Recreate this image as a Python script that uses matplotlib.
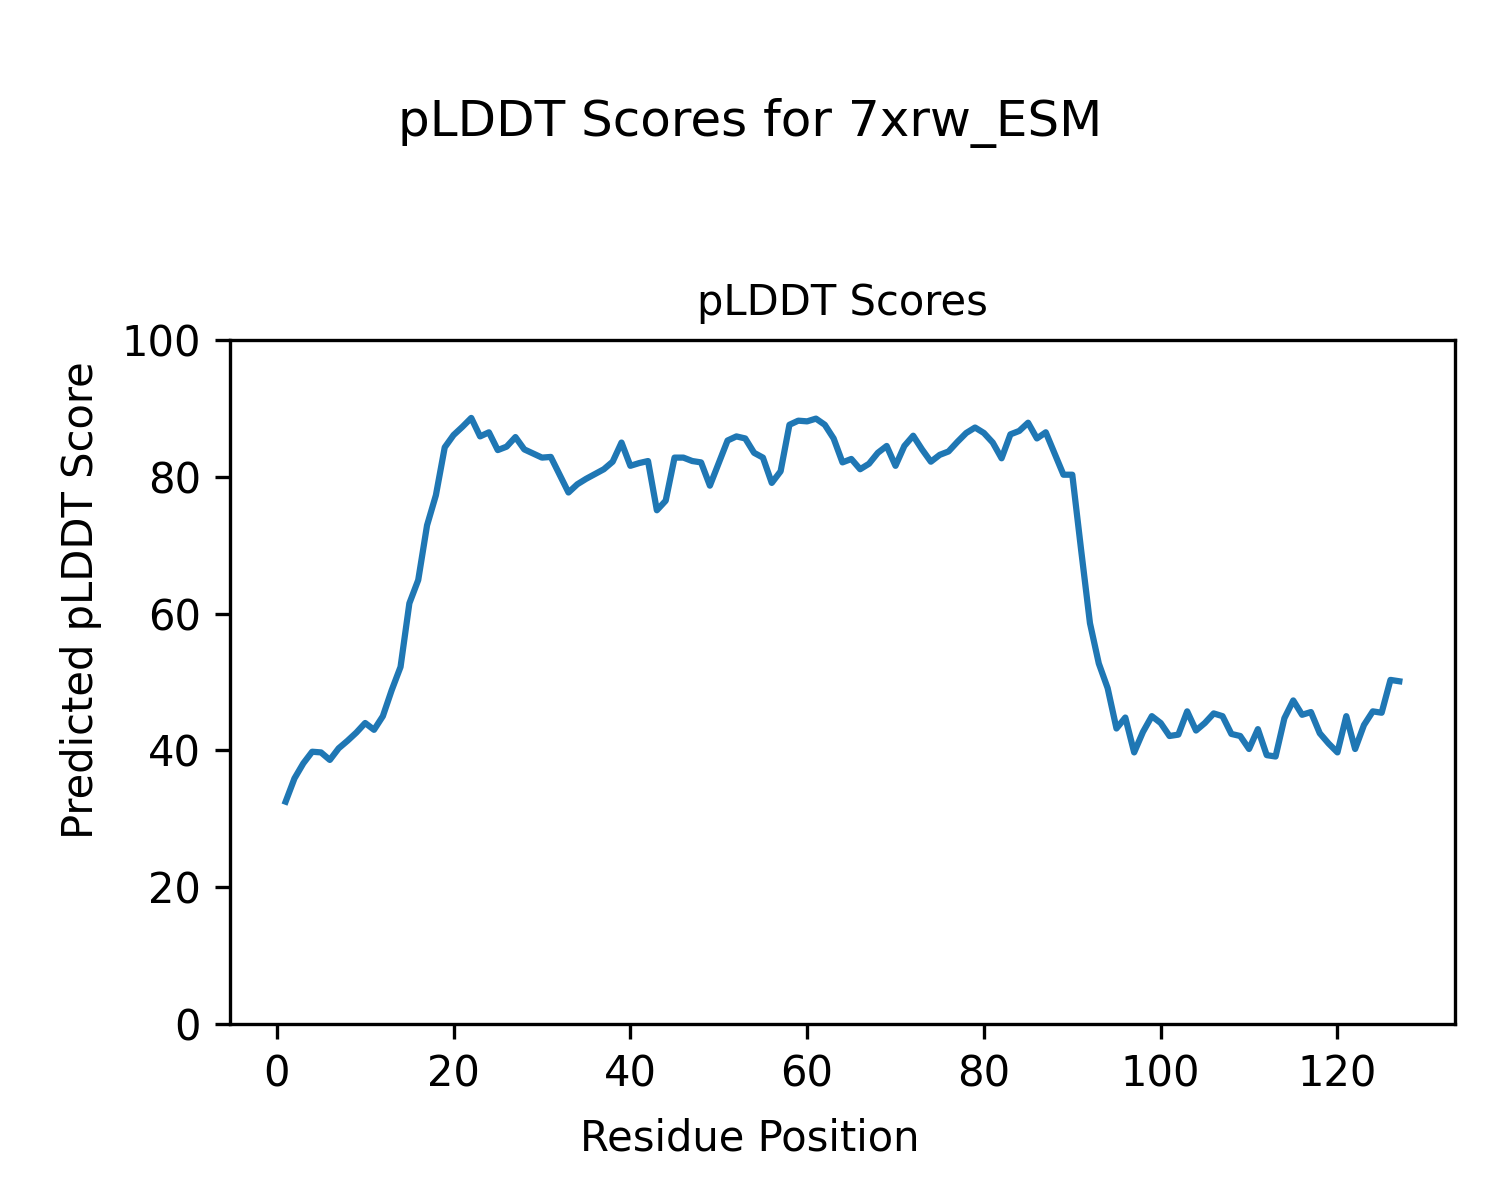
import matplotlib
matplotlib.use("Agg")
import matplotlib.pyplot as plt
import numpy as np

# pLDDT per residue
residues = np.arange(1, 128)
plddt = [
    32.5, 35.9, 38.1, 39.8, 39.7, 38.6, 40.3, 41.4, 42.6, 44.0,
    43.0, 45.0, 48.8, 52.2, 61.5, 64.9, 72.9, 77.3, 84.3, 86.1,
    87.3, 88.6, 85.9, 86.5, 83.9, 84.4, 85.8, 84.0, 83.4, 82.8,
    82.9, 80.3, 77.7, 78.9, 79.7, 80.4, 81.1, 82.2, 85.0, 81.6,
    82.0, 82.3, 75.1, 76.5, 82.8, 82.8, 82.3, 82.1, 78.7, 82.0,
    85.3, 85.9, 85.6, 83.5, 82.8, 79.1, 80.8, 87.6, 88.2, 88.1,
    88.5, 87.6, 85.6, 82.1, 82.6, 81.1, 81.9, 83.5, 84.5, 81.6,
    84.5, 86.0, 84.0, 82.2, 83.2, 83.7, 85.1, 86.4, 87.2, 86.4,
    85.0, 82.7, 86.2, 86.7, 87.9, 85.6, 86.5, 83.4, 80.3, 80.3,
    69.3, 58.6, 52.7, 49.1, 43.2, 44.8, 39.7, 42.7, 45.0, 44.0,
    42.1, 42.3, 45.7, 42.9, 44.0, 45.4, 45.0, 42.4, 42.1, 40.2,
    43.1, 39.3, 39.1, 44.7, 47.3, 45.2, 45.6, 42.5, 41.0, 39.7,
    45.0, 40.2, 43.7, 45.7, 45.5, 50.3, 50.1,
]

fig, ax = plt.subplots(figsize=(5, 4), dpi=300)
fig.subplots_adjust(left=0.1533, right=0.97, bottom=0.1467, top=0.7167)

ax.plot(residues, plddt)
ax.set_ylim(0, 100)
ax.set_title("pLDDT Scores", fontsize=10)

# figure-level labels, centred on the figure rather than the axes
fig.supxlabel("Residue Position", y=0.034, fontsize=10)
fig.supylabel("Predicted pLDDT Score", x=0.04, fontsize=10)
fig.suptitle("pLDDT Scores for 7xrw_ESM", y=0.918)

plt.savefig("out.png", dpi=300)
